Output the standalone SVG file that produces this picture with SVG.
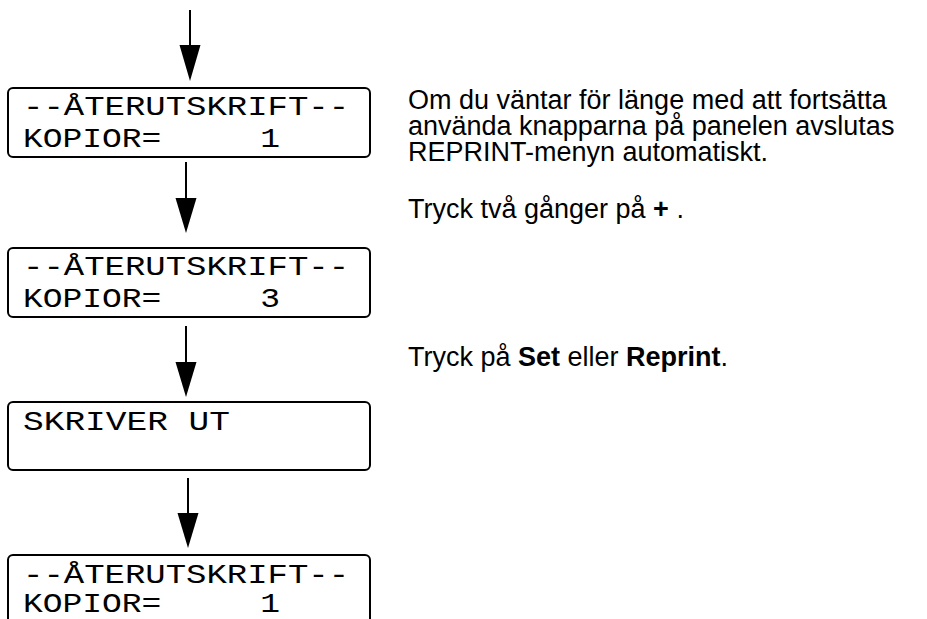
<svg xmlns="http://www.w3.org/2000/svg" width="927" height="619" viewBox="0 0 927 619">
<style>
  .box { fill: #fff; stroke: #000; stroke-width: 2; }
  .lcd { font-family: "Liberation Mono", "Courier New", monospace; font-size: 28px; fill: #000; white-space: pre; }
  .line { stroke: #000; stroke-width: 2; fill: none; }
  .head { fill: #000; stroke: none; }
  .note { font-family: "Liberation Sans", Arial, sans-serif; font-size: 27px; fill: #000; }
  .b { font-weight: bold; }
</style>
<rect width="927" height="619" fill="#fff"/>
<g id="connectors">
  <line class="line" x1="190" y1="10" x2="190" y2="46"/>
  <polygon class="head" points="179.5,45 200.5,45 190,81"/>
  <line class="line" x1="186" y1="162" x2="186" y2="199"/>
  <polygon class="head" points="175.5,198 196.5,198 186,233"/>
  <line class="line" x1="186" y1="326" x2="186" y2="363"/>
  <polygon class="head" points="175.5,362 196.5,362 186,397"/>
  <line class="line" x1="188" y1="478" x2="188" y2="514"/>
  <polygon class="head" points="177.5,513 198.5,513 188,548"/>
</g>
<g id="box1">
  <rect class="box" x="8" y="88" width="362" height="69" rx="5"/>
  <text class="lcd" x="23" y="115" textLength="326" lengthAdjust="spacingAndGlyphs">--ÅTERUTSKRIFT--</text>
  <text class="lcd" x="23" y="147" textLength="257" lengthAdjust="spacingAndGlyphs">KOPIOR=     1</text>
</g>
<g id="box2">
  <rect class="box" x="8" y="248" width="362" height="69" rx="5"/>
  <text class="lcd" x="23" y="275" textLength="326" lengthAdjust="spacingAndGlyphs">--ÅTERUTSKRIFT--</text>
  <text class="lcd" x="23" y="307" textLength="257" lengthAdjust="spacingAndGlyphs">KOPIOR=     3</text>
</g>
<g id="box3">
  <rect class="box" x="8" y="402" width="362" height="68" rx="5"/>
  <text class="lcd" x="23" y="430" textLength="207" lengthAdjust="spacingAndGlyphs">SKRIVER UT</text>
</g>
<g id="box4">
  <rect class="box" x="8" y="555" width="362" height="90" rx="5"/>
  <text class="lcd" x="23" y="583" textLength="326" lengthAdjust="spacingAndGlyphs">--ÅTERUTSKRIFT--</text>
  <text class="lcd" x="23" y="612" textLength="257" lengthAdjust="spacingAndGlyphs">KOPIOR=     1</text>
</g>
<g id="notes">
  <text class="note" x="408" y="109">Om du väntar för länge med att fortsätta</text>
  <text class="note" x="408" y="135">använda knapparna på panelen avslutas</text>
  <text class="note" x="408" y="161">REPRINT-menyn automatiskt.</text>
  <text class="note" x="408" y="218">Tryck två gånger på <tspan class="b">+</tspan> .</text>
  <text class="note" x="408" y="366">Tryck på <tspan class="b">Set</tspan> eller <tspan class="b">Reprint</tspan>.</text>
</g>
</svg>
